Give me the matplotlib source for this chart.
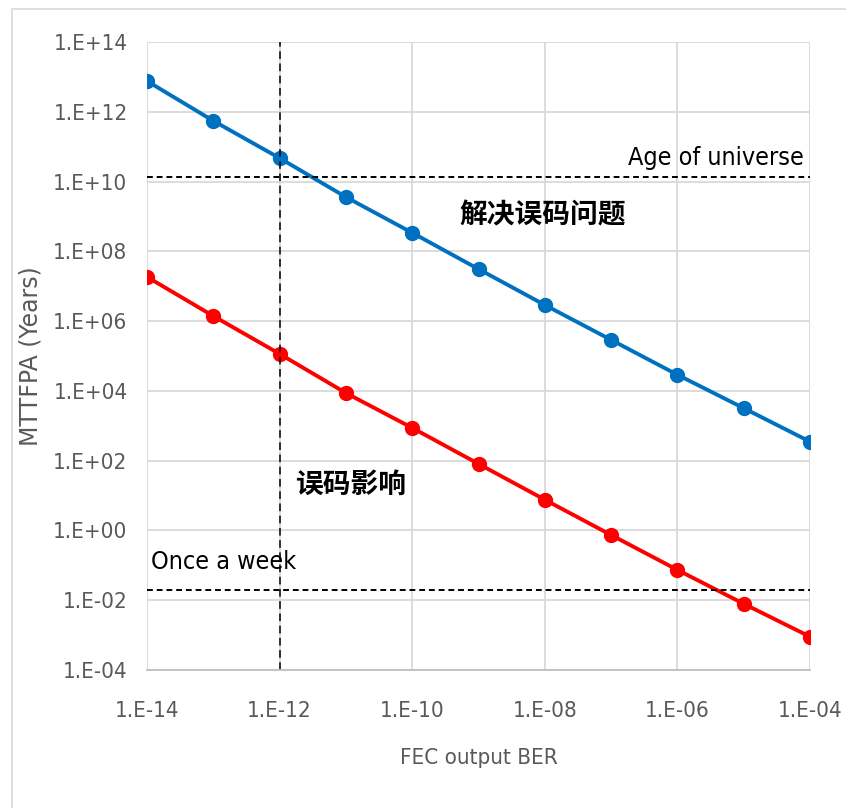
import numpy as np
import matplotlib.pyplot as plt
from matplotlib.patches import Rectangle

# FEC output BER (one point per decade)
ber = [1e-14, 1e-13, 1e-12, 1e-11, 1e-10, 1e-9, 1e-8, 1e-7, 1e-6, 1e-5, 1e-4]
# MTTFPA in years
mttfpa_fixed = [7.6e12, 5.5e11, 4.7e10, 3.6e9, 3.4e8, 3.1e7, 2.9e6, 2.9e5, 2.9e4, 3.2e3, 3.5e2]
mttfpa_error = [1.85e7, 1.4e6, 1.15e5, 8.7e3, 8.7e2, 81, 7.6, 0.74, 0.074, 7.9e-3, 9e-4]

age_of_universe = 1.38e10
once_a_week = 1 / 52.0
ber_mark = 1e-12

xticks = [1e-14, 1e-12, 1e-10, 1e-8, 1e-6, 1e-4]
yticks = [1e-4, 1e-2, 1e0, 1e2, 1e4, 1e6, 1e8, 1e10, 1e12, 1e14]

plt.rcParams['font.family'] = ['DejaVu Sans']
plt.rcParams['font.stretch'] = 'condensed'

fig = plt.figure(figsize=(8.46, 8.08), dpi=100)
ax = fig.add_axes([147 / 846, 1 - 670 / 808, (810 - 147) / 846, (670 - 42) / 808])

# outer frame of the chart
fig.patches.append(Rectangle((12 / 846, -0.01), 1.0, 1 - 9 / 808 + 0.01,
                             transform=fig.transFigure, fill=False,
                             edgecolor='#d9d9d9', linewidth=1.2))

ax.plot(ber, mttfpa_fixed, color='#0070C0', linewidth=2.8, marker='o', markersize=10)
ax.plot(ber, mttfpa_error, color='#FF0000', linewidth=2.8, marker='o', markersize=10)

ax.axhline(age_of_universe, color='black', linestyle=(0, (3, 2)), linewidth=1.4)
ax.axhline(once_a_week, color='black', linestyle=(0, (3, 2)), linewidth=1.4)
ax.axvline(ber_mark, color='black', linestyle=(0, (5, 3)), linewidth=1.1)

ax.set_xscale('log')
ax.set_yscale('log')
ax.set_xlim(1e-14, 1e-4)
ax.set_ylim(1e-4, 1e14)
ax.set_xticks(xticks)
ax.set_yticks(yticks)
ax.minorticks_off()
ax.set_xticklabels(['1.E%+03d' % int(np.log10(v)) for v in xticks])
ax.set_yticklabels(['1.E%+03d' % int(np.log10(v)) for v in yticks])
ax.tick_params(length=0, labelsize=16, colors='#595959', pad=14)
ax.tick_params(axis='x', pad=22)
ax.grid(True, color='#d9d9d9', linewidth=1.3)
ax.set_axisbelow(True)
for s in ['top', 'right', 'left']:
    ax.spines[s].set_visible(False)
ax.spines['bottom'].set_color('#bfbfbf')
ax.spines['bottom'].set_linewidth(1.3)

ax.set_xlabel('FEC output BER', fontsize=16, color='#595959', labelpad=20)
ax.set_ylabel('MTTFPA (Years)', fontsize=17, color='#595959', labelpad=8,
              stretch='normal')

ax.text(1e-4 / 1.25, age_of_universe * 1.6, 'Age of universe', fontsize=18,
        ha='right', va='bottom')
ax.text(1.15e-14, once_a_week * 3.0, 'Once a week', fontsize=18,
        ha='left', va='bottom')
ax.text(5.2e-10, 1.1e9, '解决误码问题', fontsize=20, fontweight='bold',
        family=['Noto Sans CJK SC', 'DejaVu Sans'], ha='left', va='center')
ax.text(1.7e-12, 20, '误码影响', fontsize=20, fontweight='bold',
        family=['Noto Sans CJK SC', 'DejaVu Sans'], ha='left', va='center')

fig.savefig('out.png', dpi=100)
